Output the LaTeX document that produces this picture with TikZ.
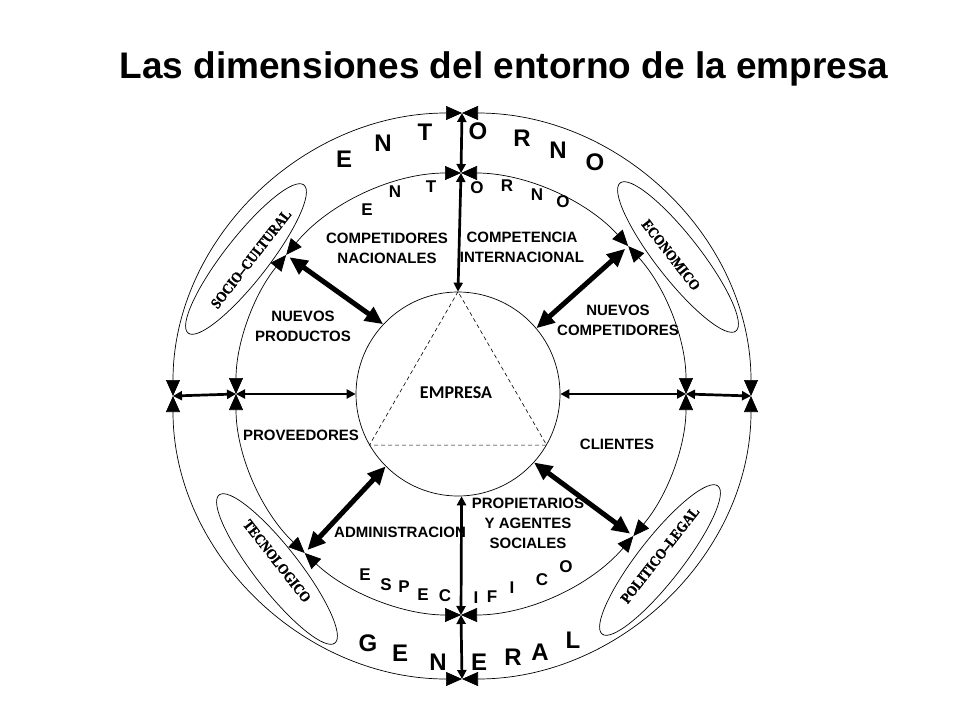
\documentclass[tikz,border=0pt]{standalone}
\usepackage{fontspec}
\setmainfont{Liberation Sans}
\newfontfamily\ellfont[FakeStretch=0.87,FakeBold=1.2]{Liberation Serif}
\newfontfamily\empfont{Carlito}
\usetikzlibrary{arrows.meta,calc,shapes.geometric}
\begin{document}
\begin{tikzpicture}[x=1pt,y=-1pt,
  arcarrow/.style={line width=0.7pt,{Triangle[length=16pt,width=14pt]}-{Triangle[length=16pt,width=14pt]}},
  medarrow/.style={line width=2.7pt,{Triangle[length=9pt,width=9pt]}-{Triangle[length=9pt,width=9pt]}},
  bigarrow/.style={line width=5pt,{Triangle[length=18pt,width=16pt]}-{Triangle[length=18pt,width=16pt]}},
  lbl/.style={font=\bfseries\fontsize{15}{20}\selectfont, align=center, inner sep=0pt},
  bigletter/.style={font=\bfseries\fontsize{24}{24}\selectfont, inner sep=0pt},
  midletter/.style={font=\bfseries\fontsize{17}{17}\selectfont, inner sep=0pt},
  ellbox/.style={draw, line width=0.7pt, ellipse, minimum width=188pt, minimum height=44pt, inner sep=0pt},
  elltext/.style={font=\ellfont\bfseries\fontsize{15}{15}\selectfont, inner sep=0pt},
]
\fill[white] (0,0) rectangle (960,720);
\useasboundingbox (0,0) rectangle (960,720);

\node[font=\bfseries\fontsize{37}{37}\selectfont, anchor=base] (title) at (504,78) {Las dimensiones del entorno de la empresa};

\coordinate (Co) at (462,396);
\coordinate (Cm) at (461,394);

% inner circle
\node[circle, draw, line width=0.7pt, minimum size=204pt, inner sep=0pt] (emp) at (458,394) {};
\draw[dash pattern=on 4pt off 3pt, line width=0.6pt] (emp.90) -- (emp.210) -- (emp.330) -- cycle;
\node[font=\empfont\bfseries\fontsize{18}{18}\selectfont, inner sep=0pt] (emptxt) at (456,393) {EMPRESA};

% outer arcs
\foreach \a/\b in {0/90,90/180,180/270,270/360}
  \draw[arcarrow] ($(Co)+(-\a:289 and 283)$) arc[start angle=-\a, end angle=-\b, x radius=289, y radius=283];
% middle arcs
\foreach \a/\b in {0/42,42/90,90/141,141/180,180/226,226/270,270/320,320/360}
  \draw[arcarrow] ($(Cm)+(-\a:225 and 221)$) arc[start angle=-\a, end angle=-\b, x radius=225, y radius=221];

% junctions
\coordinate (oT) at ($(Co)+(-90:289 and 283)$);
\coordinate (oL) at ($(Co)+(-180:289 and 283)$);
\coordinate (oB) at ($(Co)+(90:289 and 283)$);
\coordinate (oR) at ($(Co)+(0:289 and 283)$);
\coordinate (mT) at ($(Cm)+(-90:225 and 221)$);
\coordinate (mL) at ($(Cm)+(-180:225 and 221)$);
\coordinate (mB) at ($(Cm)+(90:225 and 221)$);
\coordinate (mR) at ($(Cm)+(0:225 and 221)$);
\coordinate (mUL) at ($(Cm)+(-141:225 and 221)$);
\coordinate (mUR) at ($(Cm)+(-42:225 and 221)$);
\coordinate (mLL) at ($(Cm)+(-226:225 and 221)$);
\coordinate (mLR) at ($(Cm)+(-320:225 and 221)$);

% straight arrows
\draw[medarrow] (oT) -- (mT);
\draw[medarrow] (mT) -- (emp.north);
\draw[medarrow] (emp.-88) -- (mB);
\draw[medarrow] (mB) -- (oB);
\draw[medarrow] (oL) -- (mL);
\draw[medarrow] (mL) -- (emp.west);
\draw[medarrow] (emp.east) -- (mR);
\draw[medarrow] (mR) -- (oR);

\draw[bigarrow, shorten <=4pt] (mUL) -- (emp.137);
\draw[bigarrow, shorten <=4pt] (mUR) -- (emp.40);
\draw[bigarrow, shorten <=4pt] (mLL) -- (emp.225);
\draw[bigarrow, shorten <=4pt] (mLR) -- (emp.318);

% labels
\node[lbl] (compnac) at (387,248) {COMPETIDORES\\NACIONALES};
\node[lbl] (compint) at (522,247) {COMPETENCIA\\INTERNACIONAL};
\node[lbl] (nuevprod) at (303,326) {NUEVOS\\PRODUCTOS};
\node[lbl] (nuevcomp) at (618,320) {NUEVOS\\COMPETIDORES};
\node[lbl] (prov) at (301,435) {PROVEEDORES};
\node[lbl] (cli) at (617,444) {CLIENTES};
\node[lbl] (adm) at (400,532) {ADMINISTRACION};
\node[lbl] (prop) at (528,523) {PROPIETARIOS\\Y AGENTES\\SOCIALES};

% letters
\foreach \t/\x/\y [count=\i] in {E/344/159,N/383/143,T/425/132,O/478/131,R/522/138,N/558/150,O/595/162}
  \node[bigletter] (ent\i) at (\x,\y) {\t};
\foreach \t/\x/\y [count=\i] in {E/367/210,N/395/192,T/431/187,O/477/188,R/507/186,N/537/195,O/563/202}
  \node[midletter] (ient\i) at (\x,\y) {\t};
\foreach \t/\x/\y [count=\i] in {E/365/575,S/386/585,P/404/587,E/423/595,C/445/596,I/476/598,F/492/597,I/512/588,C/542/580,O/566/567}
  \node[midletter] (esp\i) at (\x,\y) {\t};
\foreach \t/\x/\y [count=\i] in {G/368/643,E/400/653,N/438/662,E/479/662,R/513/657,A/540/652,L/573/640}
  \node[bigletter] (gen\i) at (\x,\y) {\t};

% ellipses
\node[ellbox, rotate=52] (soc) at (246,259) {};
\node[elltext, rotate=52] (soct) at (251,259) {SOCIO–CULTURAL};
\node[ellbox, rotate=-52] (eco) at (678,257) {};
\node[elltext, rotate=-52] (ecot) at (671,255) {ECONOMICO};
\node[ellbox, rotate=-52] (tec) at (277,569) {};
\node[elltext, rotate=-52] (tect) at (277,561) {TECNOLOGICO};
\node[ellbox, rotate=52] (pol) at (660,560) {};
\node[elltext, rotate=52] (polt) at (660,555) {POLITICO–LEGAL};
\end{tikzpicture}
\end{document}
